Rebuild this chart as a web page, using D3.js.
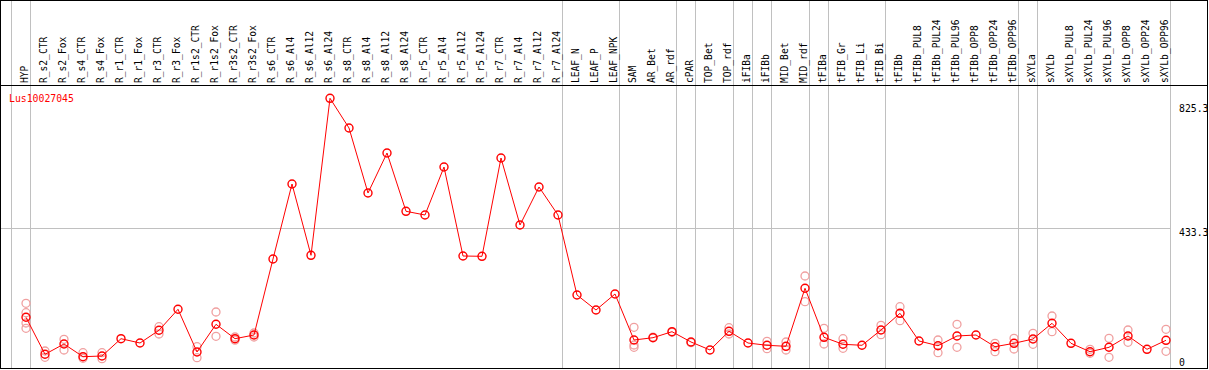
<!DOCTYPE html>
<html>
<head>
<meta charset="utf-8">
<script src="https://cdn.jsdelivr.net/npm/d3@7"></script>
<style>
  body { margin: 0; background: #fff; }
  text { font-family: "DejaVu Sans Mono", monospace; }
</style>
</head>
<body>
<svg id="svg" width="1209" height="370"></svg>
<script>
var svg = d3.select("#svg");

var gene = "Lus10027045";

var samples = ["HYP","R_s2_CTR","R_s2_Fox","R_s4_CTR","R_s4_Fox","R_r1_CTR","R_r1_Fox","R_r3_CTR","R_r3_Fox",
    "R_r1s2_CTR","R_r1s2_Fox","R_r3s2_CTR","R_r3s2_Fox","R_s6_CTR","R_s6_Al4","R_s6_Al12","R_s6_Al24",
    "R_s8_CTR","R_s8_Al4","R_s8_Al12","R_s8_Al24","R_r5_CTR","R_r5_Al4","R_r5_Al12","R_r5_Al24",
    "R_r7_CTR","R_r7_Al4","R_r7_Al12","R_r7_Al24","LEAF_N","LEAF_P","LEAF_NPK","SAM","AR_Bet","AR_rdf",
    "cPAR","TOP_Bet","TOP_rdf","iFIBa","iFIBb","MID_Bet","MID_rdf","tFIBa","tFIB_Gr","tFIB_Li","tFIB_Bi",
    "tFIBb","tFIBb_PUL8","tFIBb_PUL24","tFIBb_PUL96","tFIBb_OPP8","tFIBb_OPP24","tFIBb_OPP96","sXYLa",
    "sXYLb","sXYLb_PUL8","sXYLb_PUL24","sXYLb_PUL96","sXYLb_OPP8","sXYLb_OPP24","sXYLb_OPP96"];

var means = [138.0, 14.7, 49.0, 6.7, 9.0, 66.7, 52.3, 94.7, 164.7,
    22.3, 114.7, 66.7, 79.0, 332.3, 574.6, 344.6, 845.5,
    751.6, 546.2, 672.6, 488.3, 476.6, 628.3, 342.3, 341.3,
    656.8, 445.0, 565.1, 476.6, 212.3, 162.3, 215.7, 62.3, 70.0, 90.0,
    55.7, 29.0, 91.3, 52.3, 44.7, 41.3, 234.7, 71.3, 48.0, 44.7, 95.7,
    151.3, 59.0, 43.3, 75.7, 79.0, 40.0, 51.3, 65.7,
    118.0, 51.3, 23.3, 38.0, 75.7, 31.3, 61.3];

var reps = [[184.7, 153.3, 119.0, 101.3], [25.7, 4.7], [64.7, 29.0], [20.0, 1.3], [20.0, 0], [], [], [106.7, 82.3], [],
    [40.0, 3.3], [155.7, 74.7], [72.3, 62.0], [85.7, 72.3], [], [], [], [],
    [], [], [], [], [], [], [], [],
    [], [], [], [], [], [], [], [104.7, 45.7, 38.0], [72.0], [88.0],
    [53.5], [], [103.3, 82.3], [], [58.0, 33.3], [55.7, 29.0], [275.6, 190.0], [101.3, 49.0], [66.7, 34.7], [], [111.3, 80.0],
    [173.3, 126.7], [], [62.3, 20.0], [114.7, 38.0], [], [51.3, 23.3], [68.0, 32.3], [84.7, 48.0],
    [142.3, 90.0], [], [31.3, 18.0], [68.0, 4.7], [95.7, 54.7], [], [98.0, 24.7]];

// separator lines sit after these sample indices
var groupEnds = [-1, 0, 28, 31, 34, 35, 37, 38, 39, 41, 42, 45, 52, 53, 60];

var yTicks = [0, 433.3, 825.3];

var x = d3.scaleLinear().domain([0, samples.length - 1]).range([26, 1166]),
    y = d3.scaleLinear().domain([0, 433.3, 825.3]).range([358.7, 228.7, 104.7]);

var grey = "#c0c0c0", red = "#ff0000", pale = "#f0a0a0";

svg.append("rect").attr("width", 1209).attr("height", 370).attr("fill", "#fff");

// horizontal grid line at the middle tick
svg.append("line")
    .attr("x1", 1).attr("x2", 1170).attr("y1", y(433.3)).attr("y2", y(433.3))
    .attr("stroke", grey).attr("shape-rendering", "crispEdges");

// group separators
svg.selectAll(".sep").data(groupEnds).enter()
    .append("line").attr("class", "sep")
    .attr("x1", d => x(d) + 4.5).attr("x2", d => x(d) + 4.5)
    .attr("y1", 0).attr("y2", 369)
    .attr("stroke", grey).attr("shape-rendering", "crispEdges");

// column labels
svg.selectAll(".lab").data(samples).enter()
    .append("text").attr("class", "lab")
    .attr("transform", (d, i) => "translate(" + (x(i) - 1) + ",83) rotate(-90)")
    .attr("dy", "0.33em")
    .attr("font-size", 9.6)
    .text(d => d);

// header and frame
svg.append("line").attr("x1", 0).attr("x2", 1208).attr("y1", 85.5).attr("y2", 85.5)
    .attr("stroke", "#000");
svg.append("rect").attr("x", 0.5).attr("y", 0.5).attr("width", 1207).attr("height", 368)
    .attr("fill", "none").attr("stroke", "#000");

// y labels
svg.selectAll(".yl").data(yTicks).enter()
    .append("text").attr("class", "yl")
    .attr("x", 1179).attr("y", d => y(d))
    .attr("dy", "0.72em").attr("font-size", 9.8)
    .text(d => d);

svg.append("text").attr("x", 9).attr("y", 101.5)
    .attr("font-size", 9.8).attr("fill", red)
    .text(gene);

// replicate points
var repPts = [];
reps.forEach((r, i) => r.forEach(v => repPts.push([i, v])));
svg.selectAll(".rep").data(repPts).enter()
    .append("circle").attr("class", "rep")
    .attr("cx", d => x(d[0])).attr("cy", d => y(d[1])).attr("r", 4)
    .attr("fill", "none").attr("stroke", pale).attr("stroke-width", 1.3);

svg.append("path").datum(means)
    .attr("d", d3.line().x((d, i) => x(i)).y(d => y(d)))
    .attr("fill", "none").attr("stroke", red).attr("stroke-width", 1);

svg.selectAll(".pt").data(means).enter()
    .append("circle").attr("class", "pt")
    .attr("cx", (d, i) => x(i)).attr("cy", d => y(d)).attr("r", 4)
    .attr("fill", "none").attr("stroke", red).attr("stroke-width", 1.4);
</script>
</body>
</html>
